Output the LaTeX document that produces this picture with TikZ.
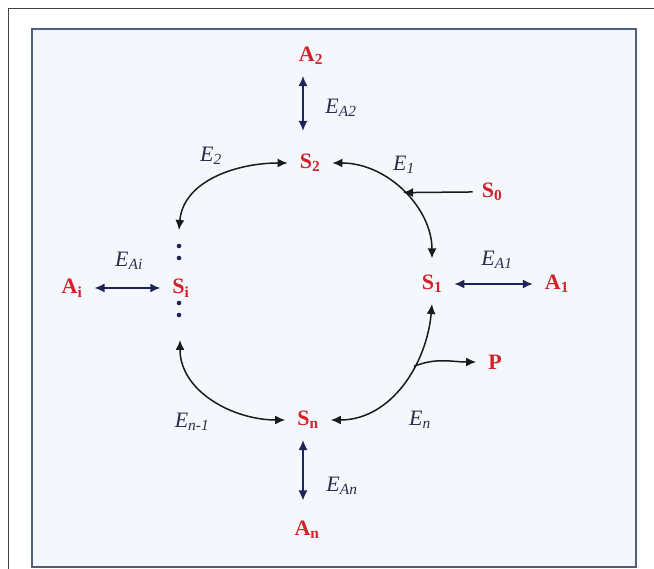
\documentclass[tikz,border=0pt]{standalone}
\usepackage{fontspec}
\setmainfont{Liberation Serif}
\usetikzlibrary{arrows.meta}
\definecolor{specred}{RGB}{210,35,42}
\definecolor{enzgray}{RGB}{45,45,75}
\definecolor{bindnavy}{RGB}{30,35,90}
\definecolor{cycblack}{RGB}{25,25,30}
\definecolor{boxline}{RGB}{80,95,125}
\definecolor{boxfill}{RGB}{244,248,252}

\begin{document}
\begin{tikzpicture}[x=1pt,y=1pt,>={Latex[length=10pt,width=9pt]}]
  \tikzstyle{spec}=[text=specred,font=\fontsize{22}{26}\selectfont\bfseries,inner xsep=12pt,inner ysep=11pt]
  \tikzstyle{enz}=[text=enzgray,font=\fontsize{22}{26}\selectfont\itshape,inner sep=1pt]
  \tikzstyle{cyc}=[draw=cycblack,line width=1.5pt,<->]
  \tikzstyle{bind}=[draw=bindnavy,line width=1.5pt,<->]
  \useasboundingbox (0,0) rectangle (654,569);
  \draw[black!75,line width=1pt] (8,0) -- (8,560) -- (654,560);
  \draw[boxline,line width=2.5pt,fill=boxfill] (32,2) rectangle (636,540);

  \node[spec] (A2) at (311,513) {A\textsubscript{2}};
  \node[spec] (S2) at (310,406) {S\textsubscript{2}};
  \node[spec] (S0) at (492,377) {S\textsubscript{0}};
  \node[spec] (S1) at (432,285) {S\textsubscript{1}};
  \node[spec] (A1) at (557,285) {A\textsubscript{1}};
  \node[spec] (Si) at (181,281) {S\textsubscript{i}};
  \node[spec] (Ai) at (72,281)  {A\textsubscript{i}};
  \node[spec] (P)  at (495,207) {P};
  \node[spec] (Sn) at (308,149) {S\textsubscript{n}};
  \node[spec] (An) at (307,39)  {A\textsubscript{n}};
  \coordinate (Siu) at (179,339);
  \coordinate (Sid) at (180,229);

  \foreach \y in {323,311,266,254}
    \fill[bindnavy] (179,\y) circle (2.3pt);

  \draw[bind,shorten >=12pt] ([xshift=-8pt]A2.south) -- ([xshift=-7pt]S2.north);
  \draw[bind] (S1.east) -- (A1.west);
  \draw[bind] (Ai.east) -- (Si.west);
  \draw[bind,shorten >=9.5pt] ([xshift=-5pt]Sn.south) -- ([xshift=-4pt]An.north);

  \draw[cyc] (Siu) to[out=85,in=180] (S2.west);
  \draw[cyc,shorten >=5.5pt] (S2.east) to[out=0,in=90] coordinate[pos=0.5] (j1) (S1.north);
  \draw[cyc] (S1.south) to[out=-95,in=0] coordinate[pos=0.37] (j2) (Sn.east);
  \draw[cyc] (Sid) to[out=-90,in=180] (Sn.west);
  \draw[cycblack,line width=1.5pt,->,shorten <=-3pt] (S0.west) -- (j1);
  \draw[cycblack,line width=1.5pt,->] (j2) to[out=22,in=180] (P.west);

  \node[enz] (EA2) at (341,461) {E\textsubscript{A2}};
  \node[enz] (E2)  at (211,413) {E\textsubscript{2}};
  \node[enz] (E1)  at (404,404) {E\textsubscript{1}};
  \node[enz] (EA1) at (497,309) {E\textsubscript{A1}};
  \node[enz] (EAi) at (129,308) {E\textsubscript{Ai}};
  \node[enz] (Em)  at (192,147) {E\textsubscript{n-1}};
  \node[enz] (En)  at (420,149) {E\textsubscript{n}};
  \node[enz] (EAn) at (342,83)  {E\textsubscript{An}};
\end{tikzpicture}
\end{document}
